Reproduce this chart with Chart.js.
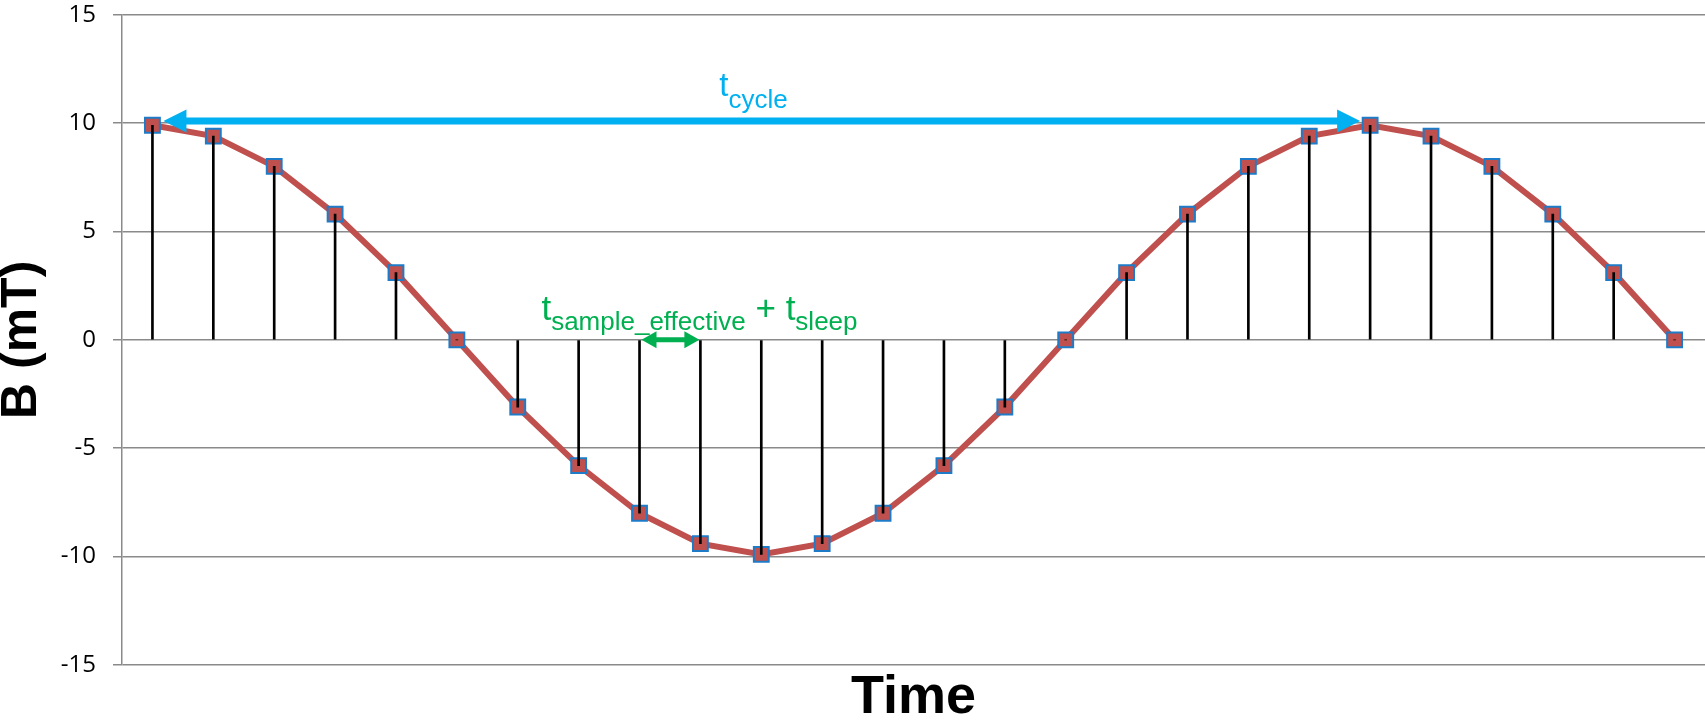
<!DOCTYPE html>
<html>
<head>
<meta charset="utf-8">
<script src="https://cdn.jsdelivr.net/npm/chart.js@4"></script>
<style>
  html, body { margin: 0; padding: 0; background: #fff; overflow: hidden; }
  #wrap { width: 1705px; height: 722px; }
  canvas { display: block; }
</style>
</head>
<body>
<div id="wrap"><canvas id="fieldChart" width="1705" height="722"></canvas></div>
<script>
// Sampled field, 26 samples over one and a quarter cycles
const samples = ['0', '1', '2', '3', '4', '5', '6', '7', '8', '9', '10', '11', '12',
                 '13', '14', '15', '16', '17', '18', '19', '20', '21', '22', '23', '24', '25'];
const fieldValues = [9.9, 9.4, 8.0, 5.8, 3.1, 0, -3.1, -5.8, -8.0, -9.4, -9.9, -9.4, -8.0,
                     -5.8, -3.1, 0, 3.1, 5.8, 8.0, 9.4, 9.9, 9.4, 8.0, 5.8, 3.1, 0];
const yTicks = [-15, -10, -5, 0, 5, 10, 15];

// annotation anchors (category index / value)
const cycleStart = 0, cycleEnd = 20, cycleLevel = 10.1;
const sampleStart = 8, sampleEnd = 9;

const GRID = '#8a8a8a';
const BLUE = '#00B0F0';
const GREEN = '#00B050';

function arrowHead(ctx, tipX, y, dir, len, half) {
    ctx.beginPath();
    ctx.moveTo(tipX, y);
    ctx.lineTo(tipX - dir * len, y - half);
    ctx.lineTo(tipX - dir * len, y + half);
    ctx.closePath();
    ctx.fill();
}

// draws text pieces one after another: [text, font, baselineOffset]
function drawRun(ctx, x, y, parts) {
    ctx.textAlign = 'left';
    ctx.textBaseline = 'alphabetic';
    parts.forEach(p => {
        ctx.font = p[1];
        ctx.fillText(p[0], x, y + p[2]);
        x += ctx.measureText(p[0]).width;
    });
}

const annotations = {
    id: 'annotations',
    afterDraw(chart) {
        const ctx = chart.ctx;
        const xs = chart.scales.x;
        const ys = chart.scales.y;
        ctx.save();

        // t_cycle arrow
        const cy = ys.getPixelForValue(cycleLevel);
        const x0 = xs.getPixelForValue(cycleStart) + 11;
        const x1 = xs.getPixelForValue(cycleEnd) - 10;
        ctx.strokeStyle = BLUE;
        ctx.fillStyle = BLUE;
        ctx.lineWidth = 7;
        ctx.beginPath();
        ctx.moveTo(x0 + 20, cy);
        ctx.lineTo(x1 - 20, cy);
        ctx.stroke();
        arrowHead(ctx, x0, cy, -1, 23, 11.5);
        arrowHead(ctx, x1, cy, 1, 23, 11.5);
        drawRun(ctx, xs.getPixelForValue(10) - 42, cy, [
            ['t', '33px "Liberation Sans", Arial, sans-serif', -25],
            ['cycle', '26px "Liberation Sans", Arial, sans-serif', -13]
        ]);

        // sample interval arrow
        const gy = ys.getPixelForValue(0);
        const g0 = xs.getPixelForValue(sampleStart) + 2;
        const g1 = xs.getPixelForValue(sampleEnd) - 1;
        ctx.strokeStyle = GREEN;
        ctx.fillStyle = GREEN;
        ctx.lineWidth = 5;
        ctx.beginPath();
        ctx.moveTo(g0 + 12, gy);
        ctx.lineTo(g1 - 12, gy);
        ctx.stroke();
        arrowHead(ctx, g0, gy, -1, 15, 8.5);
        arrowHead(ctx, g1, gy, 1, 15, 8.5);
        const big = '35px "Liberation Sans", Arial, sans-serif';
        const sub = '26px "Liberation Sans", Arial, sans-serif';
        drawRun(ctx, xs.getPixelForValue(9) - 159, gy, [
            ['t', big, -20],
            ['sample_effective', sub, -10],
            [' + t', big, -20],
            ['sleep', sub, -10]
        ]);
        ctx.restore();
    }
};

new Chart(document.getElementById('fieldChart'), {
    data: {
        labels: samples,
        datasets: [
            {
                // drop lines down to zero
                type: 'bar',
                data: fieldValues,
                backgroundColor: '#000000',
                barThickness: 2,
                order: 0
            },
            {
                type: 'line',
                data: fieldValues,
                borderColor: '#C0504D',
                borderWidth: 6,
                tension: 0,
                pointStyle: 'rect',
                pointRadius: 10.5,
                pointBorderWidth: 2,
                pointBackgroundColor: '#C0504D',
                pointBorderColor: '#1E7BC8',
                order: 1
            }
        ]
    },
    plugins: [annotations],
    options: {
        responsive: false,
        animation: false,
        layout: { autoPadding: false, padding: { top: 14.7, right: 0, left: 0, bottom: 0 } },
        plugins: {
            legend: { display: false },
            tooltip: { enabled: false }
        },
        scales: {
            x: {
                offset: true,
                grid: { display: false },
                border: { display: false },
                ticks: { display: false },
                title: {
                    display: true,
                    text: 'Time',
                    color: '#000',
                    font: { family: '"Liberation Sans", Arial, sans-serif', size: 54, weight: 'bold', lineHeight: 0.9 },
                    padding: 0
                },
                afterFit(scale) { scale.height = 57; }
            },
            y: {
                min: -15,
                max: 15,
                afterBuildTicks(scale) { scale.ticks = yTicks.map(v => ({ value: v })); },
                grid: { color: GRID, lineWidth: 1.5, tickLength: 9, tickColor: GRID },
                border: { display: true, color: GRID, width: 1.5 },
                ticks: {
                    color: '#000',
                    padding: 17,
                    font: { family: '"Open Sans", sans-serif', size: 24 }
                },
                title: {
                    display: true,
                    text: 'B (mT)',
                    color: '#000',
                    font: { family: '"Liberation Sans", Arial, sans-serif', size: 50, weight: 'bold', lineHeight: 0.9 },
                    padding: 0
                },
                afterFit(scale) {
                    scale.width = 122;
                    scale.paddingTop = 0;
                    scale.paddingBottom = 0;
                }
            }
        }
    }
});
</script>
</body>
</html>
